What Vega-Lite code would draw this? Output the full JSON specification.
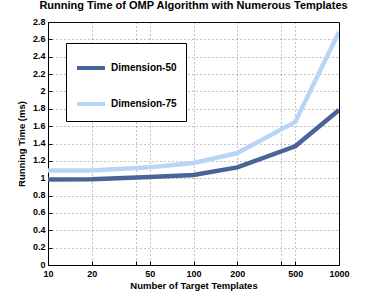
{
  "$schema": "https://vega.github.io/schema/vega-lite/v6.json",
  "autosize": "none",
  "width": 291,
  "height": 243,
  "padding": {"left": 48, "top": 22, "right": 35, "bottom": 33},
  "background": "white",
  "config": {
    "font": "Liberation Sans",
    "view": {"stroke": "black", "strokeWidth": 1},
    "axis": {
      "labelFont": "Liberation Sans",
      "labelFontWeight": "bold",
      "labelFontSize": 9,
      "labelColor": "black",
      "titleFont": "Liberation Sans",
      "titleFontWeight": "bold",
      "titleFontSize": 9.5,
      "titleColor": "black",
      "domainColor": "black",
      "tickColor": "black",
      "tickSize": -4,
      "gridColor": "#333333",
      "gridOpacity": 0.6,
      "gridDash": [1, 3],
      "gridWidth": 1
    }
  },
  "title": {
    "text": "Running Time of OMP Algorithm with Numerous Templates",
    "font": "Liberation Sans",
    "fontSize": 11,
    "fontWeight": "bold",
    "color": "black",
    "anchor": "middle",
    "offset": 6
  },
  "data": {
    "values": [
      {"templates": 10, "time": 0.984, "series": "Dimension-50"},
      {"templates": 20, "time": 0.988, "series": "Dimension-50"},
      {"templates": 50, "time": 1.013, "series": "Dimension-50"},
      {"templates": 100, "time": 1.037, "series": "Dimension-50"},
      {"templates": 200, "time": 1.125, "series": "Dimension-50"},
      {"templates": 500, "time": 1.368, "series": "Dimension-50"},
      {"templates": 1000, "time": 1.785, "series": "Dimension-50"},
      {"templates": 10, "time": 1.09, "series": "Dimension-75"},
      {"templates": 20, "time": 1.09, "series": "Dimension-75"},
      {"templates": 50, "time": 1.125, "series": "Dimension-75"},
      {"templates": 100, "time": 1.175, "series": "Dimension-75"},
      {"templates": 200, "time": 1.29, "series": "Dimension-75"},
      {"templates": 500, "time": 1.648, "series": "Dimension-75"},
      {"templates": 1000, "time": 2.685, "series": "Dimension-75"}
    ]
  },
  "mark": {"type": "line", "strokeWidth": 4.5, "clip": true},
  "encoding": {
    "x": {
      "field": "templates",
      "type": "quantitative",
      "scale": {"type": "log", "domain": [10, 1000], "nice": false},
      "axis": {
        "title": "Number of Target Templates",
        "values": [10, 20, 40, 50, 100, 200, 400, 500, 1000],
        "format": "d",
        "labelExpr": "datum.value == 40 || datum.value == 400 ? '' : datum.label",
        "labelFlush": false,
        "labelPadding": 8,
        "titlePadding": 2,
        "grid": true
      }
    },
    "y": {
      "field": "time",
      "type": "quantitative",
      "scale": {"domain": [0, 2.8], "nice": false, "zero": false},
      "axis": {
        "title": "Running Time (ms)",
        "values": [0, 0.2, 0.4, 0.6, 0.8, 1, 1.2, 1.4, 1.6, 1.8, 2, 2.2, 2.4, 2.6, 2.8],
        "format": ".1~f",
        "labelPadding": 7,
        "labelOffset": -1,
        "titlePadding": 6,
        "grid": true
      }
    },
    "color": {
      "field": "series",
      "type": "nominal",
      "scale": {"domain": ["Dimension-50", "Dimension-75"], "range": ["#4a6499", "#b9d5f5"]},
      "legend": {
        "title": null,
        "orient": "none",
        "legendX": 18,
        "legendY": 21,
        "direction": "vertical",
        "fillColor": "white",
        "strokeColor": "black",
        "padding": 9,
        "symbolType": "stroke",
        "symbolSize": 784,
        "symbolStrokeWidth": 4,
        "labelFont": "Liberation Sans",
        "labelFontSize": 10,
        "labelFontWeight": "bold",
        "labelColor": "black",
        "labelOffset": 4,
        "rowPadding": 12
      }
    }
  }
}
